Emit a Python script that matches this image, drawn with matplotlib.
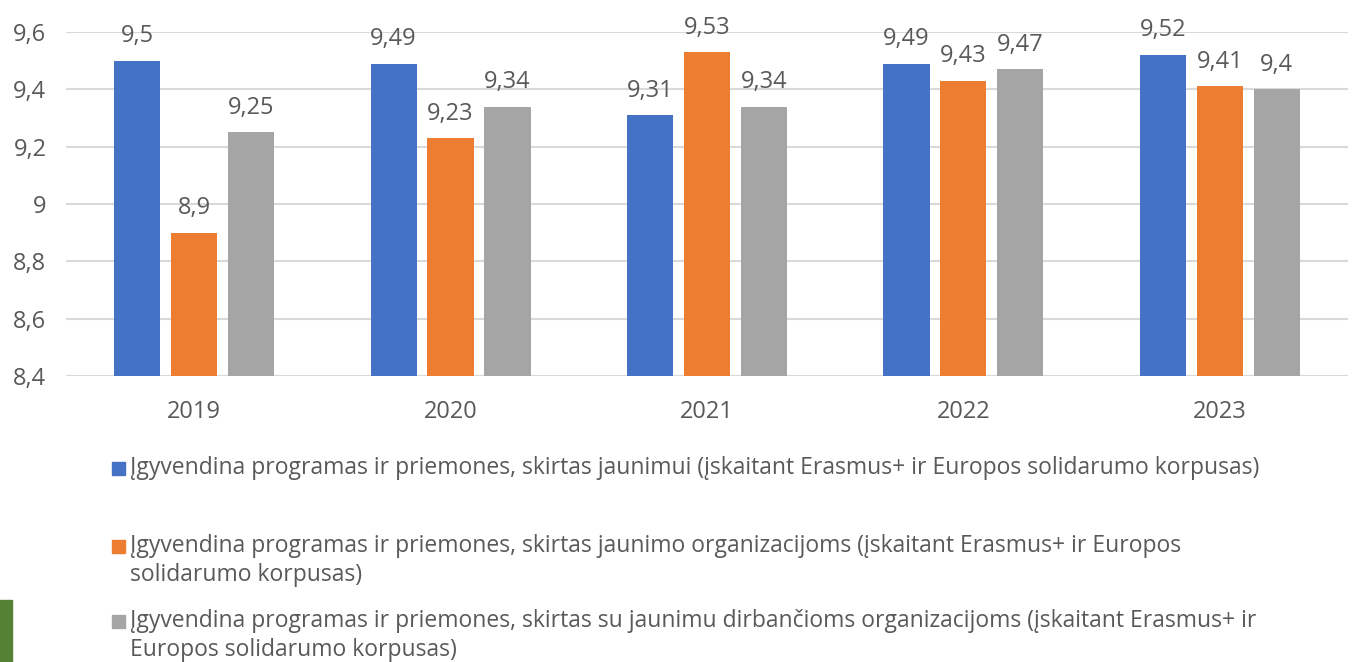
import matplotlib.pyplot as plt
import numpy as np
from matplotlib.patches import Rectangle

plt.rcParams["font.family"] = ["Open Sans", "DejaVu Sans"]

years = ["2019", "2020", "2021", "2022", "2023"]
jaunimui = [9.5, 9.49, 9.31, 9.49, 9.52]
organizacijoms = [8.9, 9.23, 9.53, 9.43, 9.41]
dirbancioms = [9.25, 9.34, 9.34, 9.47, 9.4]
series_labels = [
    "Įgyvendina programas ir priemones, skirtas jaunimui (įskaitant Erasmus+ ir Europos solidarumo korpusas)",
    "Įgyvendina programas ir priemones, skirtas jaunimo organizacijoms (įskaitant Erasmus+ ir Europos\nsolidarumo korpusas)",
    "Įgyvendina programas ir priemones, skirtas su jaunimu dirbančioms organizacijoms (įskaitant Erasmus+ ir\nEuropos solidarumo korpusas)",
]
colors = ["#4472C4", "#ED7D31", "#A5A5A5"]
text_color = "#595959"


def fmt(v):
    return f"{v:g}".replace(".", ",")


fig = plt.figure(figsize=(13.54, 6.62), dpi=100)
ax = fig.add_axes([0.0487, 0.432, 0.9469, 0.5197])

x = np.arange(len(years))
width = 0.18
step = 0.222
for i, (vals, col) in enumerate(zip([jaunimui, organizacijoms, dirbancioms], colors)):
    bars = ax.bar(x + (i - 1) * step, np.array(vals) - 8.4, width, bottom=8.4, color=col, zorder=3)
    for b, v in zip(bars, vals):
        ax.annotate(fmt(v), (b.get_x() + b.get_width() / 2, v), xytext=(0, 9),
                    textcoords="offset points", ha="center", va="bottom",
                    fontsize=17, color=text_color)

ax.set_xlim(-0.5, len(years) - 0.5)
ax.set_ylim(8.4, 9.6)
yticks = np.arange(8.4, 9.61, 0.2)
ax.set_yticks(yticks)
ax.set_yticklabels([fmt(round(t, 1)) for t in yticks])
ax.set_xticks(x)
ax.set_xticklabels(years)
ax.tick_params(axis="both", length=0, labelsize=17, colors=text_color)
ax.tick_params(axis="y", pad=14)
ax.tick_params(axis="x", pad=17)
ax.grid(axis="y", color="#D9D9D9", linewidth=1.5, zorder=0)
for s in ax.spines.values():
    s.set_visible(False)

# legend drawn by hand: square aligned with the first text line
leg_y = [468, 546, 621]
for lbl, col, yp in zip(series_labels, colors, leg_y):
    yf = 1 - yp / 662
    fig.patches.append(Rectangle((112 / 1354, yf - 6.5 / 662), 13 / 1354, 13 / 662,
                                 transform=fig.transFigure, color=col))
    fig.text(130 / 1354, yf + 12 / 662, lbl, ha="left", va="top", fontsize=16.5,
             color=text_color, linespacing=1.28)

# green block in the lower left corner
fig.patches.append(Rectangle((0, 0), 12 / 1354, 62 / 662, transform=fig.transFigure,
                             color="#548235"))

fig.savefig("out.png", dpi=100)
